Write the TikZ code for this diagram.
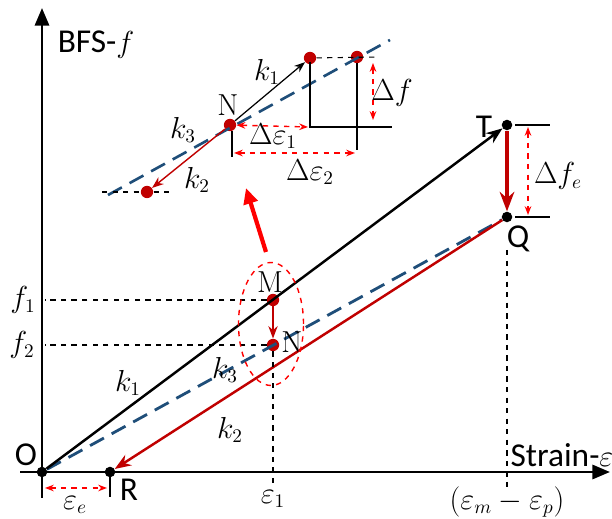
\documentclass[tikz,border=0pt]{standalone}
\usepackage{amsmath}
\usepackage[no-math]{fontspec}
\setmainfont{Carlito}
\usetikzlibrary{positioning,calc,arrows.meta,shapes.geometric}
\definecolor{lossred}{HTML}{C00000}
\definecolor{fitblue}{HTML}{1F4E79}

\begin{document}
\begin{tikzpicture}[x=0.02cm, y=-0.02cm, >=Stealth, font=\fontsize{16}{19}\selectfont,
                    word/.style={font=\fontsize{19}{22}\selectfont},
                    axis/.style={-{Triangle[length=10pt,width=8pt]}, line width=1.6pt},
                    pt/.style={circle, fill=#1, inner sep=0pt, minimum size=6pt},
                    guide/.style={dashed, line width=0.6pt},
                    gap/.style={{Stealth[length=5pt]}-{Stealth[length=5pt]}, red, dashed, line width=0.8pt},
                    bluedash/.style={fitblue, line width=#1, dash pattern=on 9pt off 5pt}]
  \useasboundingbox (0,0) rectangle (612,519);

  % axes
  \coordinate (ybot) at (42,498);
  \coordinate (ytop) at (42,8);
  \coordinate (xleft) at (20,472);
  \coordinate (xright) at (610,472);
  \draw[axis] (ybot) -- (ytop);
  \draw[axis] (xleft) -- (xright);
  \node[word] at (96,45) {BFS-$f$};
  \node[word] at (562,455) {Strain-$\varepsilon$};

  % main curves
  \node (O) [pt=black] at (42,472) {};
  \node (R) [pt=black] at (110,472) {};
  \node (T) [pt=black] at (507,125) {};
  \node (Q) [pt=black] at (507,217) {};
  \node (M) [pt=lossred, minimum size=7pt] at (273,300) {};
  \node (N) [pt=lossred, minimum size=7pt] at (273,345) {};
  \draw[bluedash=1.6pt] (O) -- (Q);
  \draw[->, line width=1.4pt] (O) -- (T);
  \draw[->, lossred, line width=1.4pt] (Q) -- (R);
  \draw[->, lossred, line width=1.8pt] (T) -- (Q);
  \draw[->, lossred, line width=0.9pt] (M) -- (N);

  \node[word] at (26,455) {O};
  \node[word] at (129,490) {R};
  \node[word] at (484,127) {T};
  \node[word] at (518,239) {Q};
  \node[word] at (270,282) {$\mathrm{M}$};
  \node[word] at (292,342) {$\mathrm{N}$};
  \node at (128,383) {$k_1$};
  \node at (225,370) {$k_3$};
  \node at (230,430) {$k_2$};

  % guides to the axes
  \draw[guide] (M) -- (45,300);
  \draw[guide] (N) -- (45,345);
  \draw[guide] (N) -- (273,488);
  \draw[guide] (507,250) -- (507,490);
  \node at (23,300) {$f_1$};
  \node at (22,345) {$f_2$};
  \node at (273,499) {$\varepsilon_1$};
  \node at (507,502) {$(\varepsilon_m-\varepsilon_p)$};

  \draw[line width=1pt] (110,472) -- (110,497);
  \draw[gap] (45,488) -- (107,488);
  \node at (75,505) {$\varepsilon_e$};

  \draw[line width=0.8pt] (515,125) -- (550,125);
  \draw[line width=0.8pt] (515,217) -- (550,217);
  \draw[gap] (528,127) -- (528,215);
  \node at (558,176) {$\Delta f_e$};

  % zoom of the point N
  \node (zoom) [draw, red, dashed, ellipse, line width=0.8pt, minimum width=37pt, minimum height=70pt] at (271,324) {};
  \coordinate (tail) at (266,252);
  \coordinate (head) at (246,188);
  \draw[-{Triangle[length=9pt,width=8pt]}, red, line width=2.4pt] (tail) -- (head);

  \node (n) [pt=lossred, minimum size=7pt] at (230,125) {};
  \node (a) [pt=lossred, minimum size=7pt] at (310,58) {};
  \node (b) [pt=lossred, minimum size=7pt] at (357,57) {};
  \node (c) [pt=lossred, minimum size=7pt] at (147,192) {};
  \draw[bluedash=1.5pt] (108,195) -- (390,40);
  \draw[->, line width=0.7pt] (n) -- (a);
  \draw[->, lossred, line width=0.8pt] (n) -- (c);
  \draw[guide] (102,192) -- (c) -- (170,192);
  \draw[guide] (a) -- (378,57);
  \draw[line width=0.8pt] (310,62) -- (310,127) -- (392,127);
  \draw[line width=0.8pt] (b) -- (357,150);
  \draw[line width=0.8pt] (232,131) -- (232,157);
  \draw[gap] (n) -- (308,127);
  \draw[gap] (234,153) -- (355,153);
  \draw[gap] (373,63) -- (373,120);

  \node[word] at (228,105) {$\mathrm{N}$};
  \node at (267,72) {$k_1$};
  \node at (183,130) {$k_3$};
  \node at (197,180) {$k_2$};
  \node at (273,136) {$\Delta\varepsilon_1$};
  \node at (310,172) {$\Delta\varepsilon_2$};
  \node at (392,93) {$\Delta f$};
\end{tikzpicture}
\end{document}
